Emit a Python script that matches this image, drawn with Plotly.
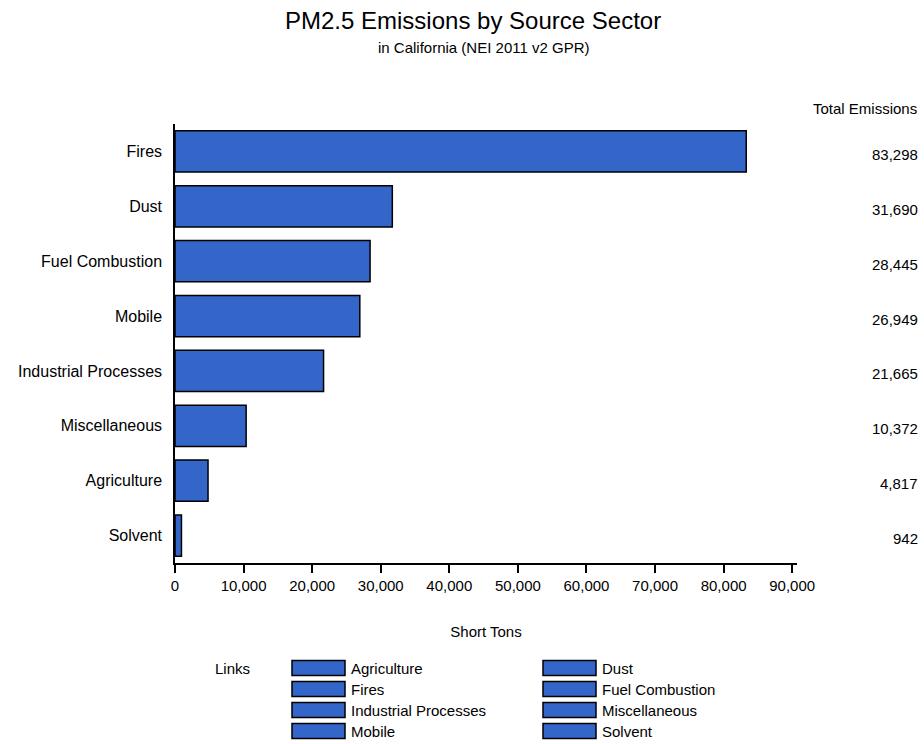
import plotly.graph_objects as go

# data
sectors = ["Fires", "Dust", "Fuel Combustion", "Mobile",
           "Industrial Processes", "Miscellaneous", "Agriculture", "Solvent"]
emissions = [83298, 31690, 28445, 26949, 21665, 10372, 4817, 942]
x_ticks = [0, 10000, 20000, 30000, 40000, 50000, 60000, 70000, 80000, 90000]
legend_order = ["Agriculture", "Dust", "Fires", "Fuel Combustion",
                "Industrial Processes", "Miscellaneous", "Mobile", "Solvent"]

BLUE = "#3465C9"
FONT = "Liberation Sans, Arial, sans-serif"

# plot area in pixels, used to place legend/annotations in paper units
L, R, T, B = 175, 797, 124, 563


def px(x):
    return (x - L) / (R - L)


def py(y):
    return (B - y) / (B - T)


fig = go.Figure(go.Bar(
    x=emissions,
    y=sectors,
    orientation="h",
    marker=dict(color=BLUE, line=dict(color="black", width=1.5)),
    showlegend=False,
    hovertemplate="%{y}<br>%{x:,.0f}<extra></extra>",
))

annotations = [
    dict(text="PM2.5 Emissions by Source Sector", xref="paper", yref="paper",
         x=px(473), y=py(21), xanchor="center", yanchor="middle",
         showarrow=False, font=dict(size=24, color="black")),
    dict(text="in California (NEI 2011 v2 GPR)", xref="paper", yref="paper",
         x=px(483), y=py(48), xanchor="center", yanchor="middle",
         showarrow=False, font=dict(size=15, color="black")),
    dict(text="Total Emissions", xref="paper", yref="paper",
         x=px(919), y=py(108), xanchor="right", yanchor="middle",
         showarrow=False, font=dict(size=15, color="black")),
    dict(text="Links", xref="paper", yref="paper",
         x=px(213), y=py(668), xanchor="left", yanchor="middle",
         showarrow=False, font=dict(size=15, color="black")),
]
for s, v in zip(sectors, emissions):
    annotations.append(dict(
        text=f"{v:,}", xref="paper", yref="y", x=px(920), y=s,
        xanchor="right", yanchor="middle", yshift=-3, showarrow=False,
        font=dict(size=15, color="black"),
    ))

shapes = []
for i, name in enumerate(legend_order):
    col, row = i % 2, i // 2
    x0 = 292 if col == 0 else 543
    yc = 668 + row * 21
    shapes.append(dict(
        type="rect", xref="paper", yref="paper",
        x0=px(x0), x1=px(x0 + 53), y0=py(yc - 7.5), y1=py(yc + 7.5),
        fillcolor=BLUE, line=dict(color="black", width=1.5),
    ))
    annotations.append(dict(
        text=name, xref="paper", yref="paper", x=px(x0 + 57), y=py(yc),
        xanchor="left", yanchor="middle", showarrow=False,
        font=dict(size=15, color="black"),
    ))

fig.update_layout(
    width=924,
    height=744,
    paper_bgcolor="white",
    plot_bgcolor="white",
    font=dict(family=FONT, size=15, color="black"),
    margin=dict(l=L, r=924 - R, t=T, b=744 - B, autoexpand=False),
    bargap=0.25,
    xaxis=dict(
        range=[0, 90700],
        tickvals=x_ticks,
        tickformat=",",
        ticks="outside",
        ticklen=8,
        tickwidth=1.5,
        tickcolor="black",
        showline=True,
        linecolor="black",
        linewidth=1.5,
        showgrid=False,
        zeroline=False,
        tickfont=dict(size=15),
        title=dict(text="Short Tons", font=dict(size=15), standoff=34),
    ),
    yaxis=dict(
        autorange="reversed",
        showline=True,
        linecolor="black",
        linewidth=1.5,
        showgrid=False,
        ticks="",
        ticklabelstandoff=8,
        tickfont=dict(size=16),
    ),
    annotations=annotations,
    shapes=shapes,
)

# drop the browser's default body margin so the 924x744 figure fills the window
fig.write_html(
    "out.html",
    config={"displayModeBar": False},
    post_script="document.body.style.margin = '0';",
)
